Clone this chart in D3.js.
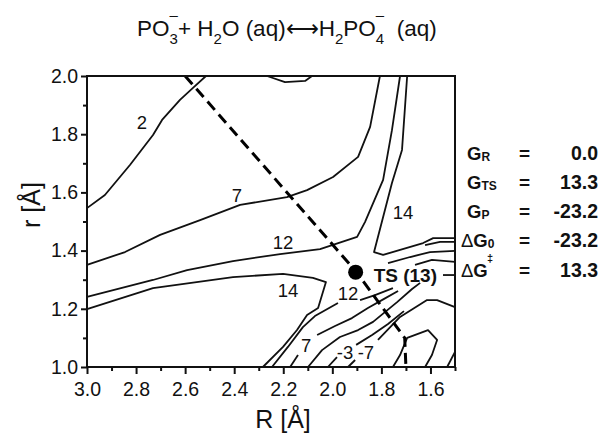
<!DOCTYPE html>
<html><head><meta charset="utf-8">
<script src="https://cdn.jsdelivr.net/npm/d3@7"></script>
<style>
body{margin:0;background:#fff}
svg{display:block}
text{font-family:"Liberation Sans",Arial,Helvetica,sans-serif;fill:#111}
</style>
</head><body>
<svg id="chart" width="612" height="433"></svg>
<script>
// ---------- data ----------
const xTicks = [3.0, 2.8, 2.6, 2.4, 2.2, 2.0, 1.8, 1.6];
const xMinor = [2.9, 2.7, 2.5, 2.3, 2.1, 1.9, 1.7, 1.5];
const yTicks = [1.0, 1.2, 1.4, 1.6, 1.8, 2.0];
const yMinor = [1.1, 1.3, 1.5, 1.7, 1.9];

// contour lines as [R, r] points (segments broken where labels sit)
const c2Reactant = [[3.0,1.546],[2.927,1.591],[2.825,1.694],[2.731,1.797],[2.694,1.849],[2.621,1.918],[2.568,1.959],[2.515,2.0]];
const c2Top = [[2.266,2.0],[2.193,1.979],[2.111,1.983],[2.083,2.0]];
const c7Reactant = [[3.0,1.351],[2.845,1.395],[2.702,1.454],[2.539,1.505],[2.376,1.557],[2.185,1.584],[2.103,1.608],[1.997,1.653],[1.895,1.722],[1.846,1.825],[1.806,2.0]];
const c12Reactant = [[3.0,1.241],[2.731,1.299],[2.592,1.333],[2.405,1.364],[2.213,1.388],[2.050,1.405],[1.899,1.447],[1.867,1.498],[1.793,1.643],[1.757,1.814],[1.724,2.0]];
const c14Left = [[3.0,1.199],[2.731,1.271],[2.405,1.309],[2.201,1.320],[2.079,1.306],[2.026,1.292],[2.058,1.203],[2.103,1.179],[2.144,1.127],[2.201,1.069],[2.283,1.0]];
const c14Right = [[1.695,2.0],[1.716,1.746],[1.757,1.632],[1.830,1.395],[1.793,1.385],[1.630,1.426],[1.589,1.443],[1.5,1.443]];
const c13RightEdge = [[1.622,1.419],[1.561,1.430],[1.5,1.430]];
const c12Right = [[1.773,1.357],[1.683,1.378],[1.602,1.395],[1.5,1.399]];
const c7Right = [[1.663,1.351],[1.594,1.368],[1.5,1.361]];
const c12Product = [
  [[2.246,1.0],[2.181,1.069],[2.120,1.137],[2.071,1.175],[1.977,1.220]],
  [[1.887,1.230],[1.826,1.247],[1.753,1.271]],
  [[1.549,1.316],[1.5,1.316]]
];
const c7Product = [
  [[2.172,1.0],[2.140,1.041]],
  [[2.062,1.110],[1.989,1.141],[1.920,1.168],[1.855,1.203],[1.789,1.234],[1.732,1.261]]
];
const c2Product = [[2.099,1.0],[2.042,1.058],[1.969,1.103],[1.895,1.127],[1.834,1.155],[1.736,1.223],[1.675,1.268],[1.642,1.289]];
const cm3Product = [
  [[2.018,1.0],[1.981,1.034]],
  [[1.903,1.076],[1.838,1.110],[1.773,1.148],[1.708,1.192]]
];
const cm7Product = [
  [[1.936,1.0],[1.907,1.024]],
  [[1.814,1.093],[1.724,1.172],[1.614,1.230],[1.573,1.230],[1.5,1.206]]
];
const cm17Loop = [[1.753,1.0],[1.724,1.041],[1.695,1.100],[1.610,1.127],[1.573,1.093],[1.594,1.041],[1.622,1.0]];
const cCorner = [[1.532,1.0],[1.5,1.052]];

const contourLabels = [
  {t:"2", R:2.776, r:1.842}, {t:"7", R:2.389, r:1.591}, {t:"12", R:2.201, r:1.430},
  {t:"14", R:2.181, r:1.265}, {t:"14", R:1.712, r:1.533}, {t:"12", R:1.936, r:1.254},
  {t:"7", R:2.107, r:1.076}, {t:"-3", R:1.948, r:1.052}, {t:"-7", R:1.863, r:1.052}
];

const reactionPath = [[2.6,2.0],[1.905,1.33],[1.705,1.10],[1.70,1.0]];
const tsPoint = [1.905, 1.326];
const tsLabel = "TS (13)";

const energyNames = ["R","TS","P","0","\u2021"];
const energyPrefix = ["","","","\u0394","\u0394"];
const energyValues = [0.0, 13.3, -23.2, -23.2, 13.3];

// ---------- drawing ----------
const svg = d3.select("#chart");
const x = d3.scaleLinear().domain([3.0, 1.5]).range([87, 455]);
const y = d3.scaleLinear().domain([1.0, 2.0]).range([367, 76]);
const line = d3.line().x(d => x(d[0])).y(d => y(d[1]));

// title
const title = svg.append("text").attr("x", 137).attr("y", 36).attr("font-size", 22.5);
const tp = (s, o) => { const e = title.append("tspan").text(s); for (const k in o) e.attr(k, o[k]); return e; };
tp("PO", {});
tp("3", {"font-size":15, y:44});
tp("\u2013", {"font-size":15, dx:-8.3, y:20});
tp("+ H", {"font-size":22.5, y:36});
tp("2", {"font-size":15, y:44});
tp("O (aq)", {"font-size":22.5, y:36});
tp("\u27F7", {"font-size":22.5});
tp("H", {"font-size":22.5});
tp("2", {"font-size":15, y:44});
tp("PO", {"font-size":22.5, y:36});
tp("4", {"font-size":15, y:44});
tp("\u2013", {"font-size":15, dx:-8.3, y:20});
tp("\u00a0\u00a0(aq)", {"font-size":22.5, y:36});

// contours
const contourSegs = [c2Reactant, c2Top, c7Reactant, c12Reactant, c14Left, c14Right, c13RightEdge,
  c12Right, c7Right, ...c12Product, ...c7Product, c2Product, ...cm3Product, ...cm7Product, cm17Loop, cCorner];
svg.append("g").selectAll("path").data(contourSegs).join("path")
  .attr("d", line).attr("fill", "none").attr("stroke", "#111").attr("stroke-width", 1.8)
  .attr("stroke-linejoin", "round");

// contour labels
svg.append("g").selectAll("text").data(contourLabels).join("text")
  .attr("x", d => x(d.R)).attr("y", d => y(d.r)).attr("dy", "0.36em")
  .attr("text-anchor", "middle").attr("font-size", 18.5).text(d => d.t);

// reaction path
svg.append("path").attr("d", line(reactionPath)).attr("fill", "none")
  .attr("stroke", "#000").attr("stroke-width", 3).attr("stroke-dasharray", "11,6");

// TS point
svg.append("circle").attr("cx", x(tsPoint[0])).attr("cy", y(tsPoint[1])).attr("r", 7.5).attr("fill", "#000");
svg.append("text").attr("x", x(tsPoint[0]) + 18).attr("y", y(tsPoint[1]) + 10)
  .attr("font-size", 19).attr("font-weight", "bold").text(tsLabel);

// frame
svg.append("rect").attr("x", x(3.0)).attr("y", y(2.0)).attr("width", x(1.5) - x(3.0)).attr("height", y(1.0) - y(2.0))
  .attr("fill", "none").attr("stroke", "#111").attr("stroke-width", 2);

// axes
function styleAxis(g) {
  g.select(".domain").remove();
  g.selectAll(".tick line").attr("stroke", "#111").attr("stroke-width", 2);
  g.selectAll(".tick text").attr("font-size", 19.5).attr("fill", "#111")
    .attr("font-family", '"Liberation Sans",Arial,sans-serif');
}
svg.append("g").attr("transform", `translate(0,${y(1.0)})`)
  .call(d3.axisBottom(x).tickValues(xTicks).tickSize(7).tickPadding(8).tickFormat(d3.format(".1f"))).call(styleAxis);
svg.append("g").attr("transform", `translate(0,${y(1.0)})`)
  .call(d3.axisBottom(x).tickValues(xMinor).tickSize(4).tickFormat("")).call(styleAxis);
svg.append("g").attr("transform", `translate(${x(3.0)},0)`)
  .call(d3.axisLeft(y).tickValues(yTicks).tickSize(6).tickPadding(3).tickFormat(d3.format(".1f"))).call(styleAxis);
svg.append("g").attr("transform", `translate(${x(3.0)},0)`)
  .call(d3.axisLeft(y).tickValues(yMinor).tickSize(4).tickFormat("")).call(styleAxis);

// axis titles
svg.append("text").attr("x", 283).attr("y", 428).attr("text-anchor", "middle").attr("font-size", 25).text("R [\u00C5]");
svg.append("text").attr("transform", "translate(40,205) rotate(-90)").attr("text-anchor", "middle")
  .attr("font-size", 25).text("r [\u00C5]");

// energies
const rowY = [160, 189, 218, 247, 277];
energyValues.forEach((v, i) => {
  const t = svg.append("text").attr("x", energyPrefix[i] ? 461 : 467).attr("y", rowY[i])
    .attr("font-size", 18.5).attr("font-weight", "bold");
  if (energyPrefix[i]) t.append("tspan").attr("font-weight", "normal").text(energyPrefix[i]);
  t.append("tspan").text("G");
  if (i !== 4) t.append("tspan").attr("font-size", 12).attr("dy", 1).text(energyNames[i]);
  if (i === 4) {
    // double dagger placed above the G as a superscript
    svg.append("text").attr("x", 487).attr("y", rowY[i] - 15).attr("font-size", 11)
      .attr("font-weight", "bold").text(energyNames[i]);
  }
  svg.append("text").attr("x", 519).attr("y", rowY[i]).attr("font-size", 19).attr("font-weight", "bold").text("=");
  svg.append("text").attr("x", 598).attr("y", rowY[i]).attr("text-anchor", "end")
    .attr("font-size", 19.5).attr("font-weight", "bold").text(v.toFixed(1));
});
</script>
</body></html>
